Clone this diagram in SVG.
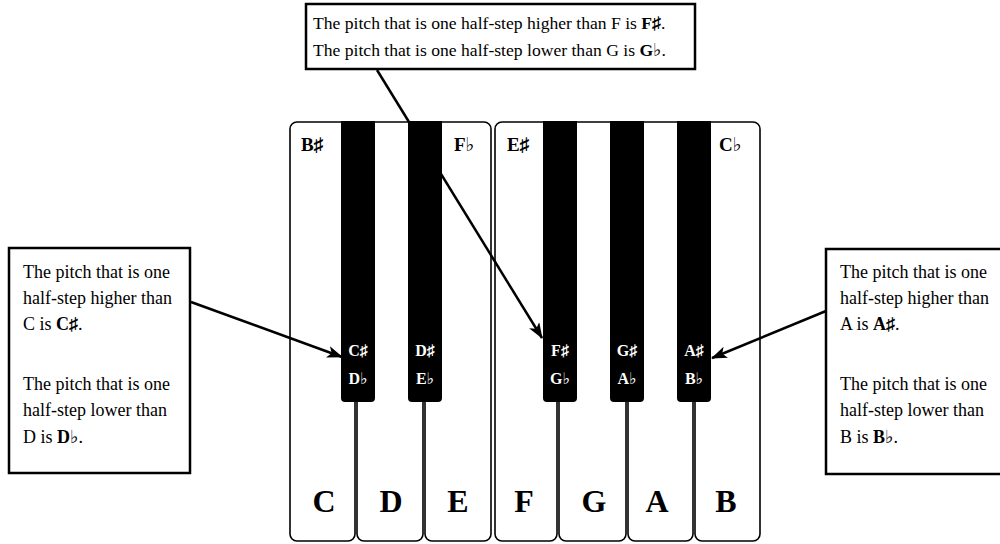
<svg xmlns="http://www.w3.org/2000/svg" width="1000" height="544" viewBox="0 0 1000 544">
<defs>
<style>
.box{fill:#fff;stroke:#000;stroke-width:2.5}
.wk{fill:#fff;stroke:#000;stroke-width:1.6}
.bk{fill:#000}
.t{font-family:"Liberation Serif","DejaVu Serif",serif;font-size:18px;fill:#000}
.tt{font-size:17.6px}
.b{font-weight:bold}
.kl{font-family:"Liberation Serif","DejaVu Serif",serif;font-size:32px;font-weight:bold;fill:#000;text-anchor:middle}
.al{font-family:"Liberation Serif","DejaVu Serif",serif;font-size:19px;font-weight:bold;fill:#000}
.bl{font-family:"Liberation Serif","DejaVu Serif",serif;font-size:16px;font-weight:bold;fill:#fff;text-anchor:middle}
.con{stroke:#000;stroke-width:2.5;fill:none}
</style>
<marker id="ah" viewBox="0 0 16 12" refX="15" refY="6" markerWidth="16" markerHeight="12" markerUnits="userSpaceOnUse" orient="auto">
<path d="M0,0 L16,6 L0,12 L4,6 Z" fill="#000"/>
</marker>
</defs>
<rect width="1000" height="544" fill="#fff"/>

<g id="keyboard">
<g id="white-keys">
<rect id="key-C" class="wk" x="290" y="122" width="65" height="419" rx="7"/>
<rect id="key-D" class="wk" x="357" y="122" width="66" height="419" rx="7"/>
<rect id="key-E" class="wk" x="425" y="122" width="66" height="419" rx="7"/>
<rect id="key-F" class="wk" x="495" y="122" width="62" height="419" rx="7"/>
<rect id="key-G" class="wk" x="559" y="122" width="67" height="419" rx="7"/>
<rect id="key-A" class="wk" x="628" y="122" width="65" height="419" rx="7"/>
<rect id="key-B" class="wk" x="695" y="122" width="65" height="419" rx="7"/>
</g>
<g id="white-labels">
<text class="kl" x="324" y="512">C</text>
<text class="kl" x="391" y="512">D</text>
<text class="kl" x="458" y="512">E</text>
<text class="kl" x="524" y="512">F</text>
<text class="kl" x="594" y="512">G</text>
<text class="kl" x="657" y="512">A</text>
<text class="kl" x="726" y="512">B</text>
<text class="al" x="301" y="151">B♯</text>
<text class="al" x="454" y="151">F♭</text>
<text class="al" x="507" y="151">E♯</text>
<text class="al" x="719" y="151">C♭</text>
</g>
</g>

<g id="connectors">
<line class="con" x1="191" y1="302" x2="342" y2="357" marker-end="url(#ah)"/>
<line class="con" x1="377" y1="70" x2="542" y2="338" marker-end="url(#ah)"/>
<line class="con" x1="826" y1="311" x2="712" y2="358" marker-end="url(#ah)"/>
</g>

<g id="black-keys">
<g id="key-Csharp"><path class="bk" d="M341,121 H375 V398 Q375,402 371,402 H345 Q341,402 341,398 Z"/><text class="bl" x="358" y="356">C♯</text><text class="bl" x="358" y="384">D♭</text></g>
<g id="key-Dsharp"><path class="bk" d="M408,121 H442 V398 Q442,402 438,402 H412 Q408,402 408,398 Z"/><text class="bl" x="425" y="356">D♯</text><text class="bl" x="425" y="384">E♭</text></g>
<g id="key-Fsharp"><path class="bk" d="M543,121 H577 V398 Q577,402 573,402 H547 Q543,402 543,398 Z"/><text class="bl" x="560" y="356">F♯</text><text class="bl" x="560" y="384">G♭</text></g>
<g id="key-Gsharp"><path class="bk" d="M610,121 H644 V398 Q644,402 640,402 H614 Q610,402 610,398 Z"/><text class="bl" x="627" y="356">G♯</text><text class="bl" x="627" y="384">A♭</text></g>
<g id="key-Asharp"><path class="bk" d="M677,121 H711 V398 Q711,402 707,402 H681 Q677,402 677,398 Z"/><text class="bl" x="694" y="356">A♯</text><text class="bl" x="694" y="384">B♭</text></g>
</g>

<g id="top-note">
<rect class="box" x="306" y="4" width="389" height="65"/>
<text class="t tt" x="313" y="29">The pitch that is one half-step higher than F is <tspan class="b">F♯</tspan>.</text>
<text class="t tt" x="313" y="56">The pitch that is one half-step lower than G is <tspan class="b">G♭</tspan>.</text>
</g>

<g id="left-note">
<rect class="box" x="9" y="248" width="181" height="225"/>
<text class="t" x="23" y="278">The pitch that is one</text>
<text class="t" x="23" y="304">half-step higher than</text>
<text class="t" x="23" y="330">C is <tspan class="b">C♯</tspan>.</text>
<text class="t" x="23" y="390">The pitch that is one</text>
<text class="t" x="23" y="416">half-step lower than</text>
<text class="t" x="23" y="443">D is <tspan class="b">D♭</tspan>.</text>
</g>

<g id="right-note">
<rect class="box" x="826" y="249" width="178" height="225"/>
<text class="t" x="840" y="278">The pitch that is one</text>
<text class="t" x="840" y="304">half-step higher than</text>
<text class="t" x="840" y="330">A is <tspan class="b">A♯</tspan>.</text>
<text class="t" x="840" y="390">The pitch that is one</text>
<text class="t" x="840" y="416">half-step lower than</text>
<text class="t" x="840" y="443">B is <tspan class="b">B♭</tspan>.</text>
</g>
</svg>
